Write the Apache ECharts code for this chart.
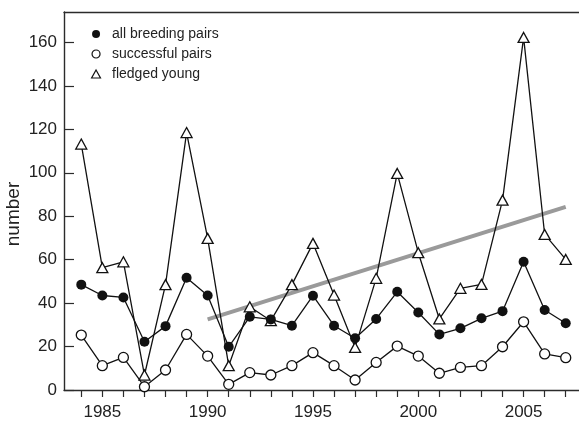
<!DOCTYPE html>
<html>
<head>
<meta charset="utf-8">
<script src="https://cdn.jsdelivr.net/npm/echarts@6/dist/echarts.min.js"></script>
<style>
  html, body { margin: 0; padding: 0; background: #fff; }
  #chart { width: 579px; height: 421px; }
</style>
</head>
<body>
<div id="chart"></div>
<script>
var years = [1984, 1985, 1986, 1987, 1988, 1989, 1990, 1991, 1992, 1993, 1994, 1995,
             1996, 1997, 1998, 1999, 2000, 2001, 2002, 2003, 2004, 2005, 2006, 2007];
var allPairs = [48.5, 43.5, 42.6, 22.2, 29.4, 51.7, 43.5, 19.9, 33.7, 32.5, 29.6, 43.4,
                29.6, 23.8, 32.7, 45.2, 35.7, 25.6, 28.4, 33.0, 36.3, 59.0, 36.8, 30.7];
var successfulPairs = [25.3, 11.2, 15.0, 1.5, 9.2, 25.6, 15.6, 2.6, 8.0, 6.9, 11.2, 17.2,
                       11.2, 4.6, 12.7, 20.2, 15.6, 7.7, 10.4, 11.2, 19.9, 31.4, 16.6, 14.9];
var fledgedYoung = [113.2, 56.3, 59.0, 6.9, 48.5, 118.5, 69.8, 11.2, 38.3, 31.9, 48.5, 67.5,
                    43.7, 19.6, 51.4, 99.7, 63.2, 32.7, 46.8, 48.6, 87.4, 162.3, 71.6, 60.1];
var trendYears = [1990, 2007];
var trendValues = [32.5, 84.3];
var xTickYears = years;
var xLabelYears = [1985, 1990, 1995, 2000, 2005];
var yTicks = [0, 20, 40, 60, 80, 100, 120, 140, 160];
var seriesNames = ['all breeding pairs', 'successful pairs', 'fledged young'];

function pairs(xs, ys) { return xs.map(function (x, i) { return [x, ys[i]]; }); }

var FONT = 'Liberation Sans, Arial, Helvetica, sans-serif';
var AXIS_COLOR = '#2b2b2b';
var TRI_ICON = 'path://M5,0L10,9L0,9Z';
var chart = echarts.init(document.getElementById('chart'), null, { renderer: 'canvas' });

chart.setOption({
  animation: false,
  backgroundColor: '#ffffff',
  grid: { left: 64, right: 0, top: 12, bottom: 31, containLabel: false },
  legend: {
    orient: 'vertical',
    left: 86,
    top: 22,
    itemGap: 6,
    itemWidth: 18,
    itemHeight: 8,
    symbolKeepAspect: true,
    selectedMode: false,
    textStyle: { fontFamily: FONT, fontSize: 14, color: '#222', padding: [0, 0, 0, 2] },
    data: [
      { name: seriesNames[0], icon: 'circle', itemStyle: { color: '#111', borderWidth: 0 } },
      { name: seriesNames[1], icon: 'circle', itemStyle: { color: '#fff', borderColor: '#111', borderWidth: 1.2 } },
      { name: seriesNames[2], icon: TRI_ICON, itemStyle: { color: '#fff', borderColor: '#111', borderWidth: 1.2 } }
    ]
  },
  xAxis: [{
    type: 'value',
    min: 1983.18,
    max: 2007.63,
    position: 'bottom',
    splitLine: { show: false },
    axisLine: { show: true, onZero: false, lineStyle: { color: AXIS_COLOR, width: 1.4 } },
    axisTick: { show: true, inside: false, length: 7, customValues: xTickYears, lineStyle: { color: AXIS_COLOR, width: 1.2 } },
    axisLabel: { show: true, margin: 14, customValues: xLabelYears, fontFamily: FONT, fontSize: 17, color: '#222',
                 formatter: function (v) { return String(v); } }
  }, {
    type: 'value',
    min: 1983.18,
    max: 2007.63,
    position: 'top',
    splitLine: { show: false },
    axisLine: { show: true, onZero: false, lineStyle: { color: AXIS_COLOR, width: 1.4 } },
    axisTick: { show: false },
    axisLabel: { show: false }
  }],
  yAxis: {
    type: 'value',
    min: 0,
    max: 174,
    splitLine: { show: false },
    axisLine: { show: true, onZero: false, lineStyle: { color: AXIS_COLOR, width: 1.4 } },
    axisTick: { show: true, inside: true, length: 10, customValues: yTicks, lineStyle: { color: AXIS_COLOR, width: 1.2 } },
    axisLabel: { show: true, margin: 7, customValues: yTicks, fontFamily: FONT, fontSize: 17, color: '#222' }
  },
  graphic: [{
    type: 'text',
    x: 14,
    y: 214,
    rotation: Math.PI / 2,
    style: { text: 'number', fontFamily: FONT, fontSize: 19, fill: '#222', textAlign: 'center', textVerticalAlign: 'middle' }
  }],
  series: [
    {
      name: 'trend',
      type: 'line',
      data: pairs(trendYears, trendValues),
      symbol: 'none',
      lineStyle: { color: '#9a9a9a', width: 4 },
      z: 1,
      silent: true
    },
    {
      name: seriesNames[2],
      type: 'line',
      data: pairs(years, fledgedYoung),
      symbol: 'triangle',
      symbolSize: [11, 10],
      lineStyle: { color: '#111', width: 1.3 },
      itemStyle: { color: '#fff', borderColor: '#111', borderWidth: 1.3 },
      z: 2
    },
    {
      name: seriesNames[0],
      type: 'line',
      data: pairs(years, allPairs),
      symbol: 'circle',
      symbolSize: 10,
      lineStyle: { color: '#111', width: 1.3 },
      itemStyle: { color: '#111', borderWidth: 0 },
      z: 3
    },
    {
      name: seriesNames[1],
      type: 'line',
      data: pairs(years, successfulPairs),
      symbol: 'circle',
      symbolSize: 10,
      lineStyle: { color: '#111', width: 1.3 },
      itemStyle: { color: '#fff', borderColor: '#111', borderWidth: 1.3 },
      z: 3
    }
  ]
});
</script>
</body>
</html>
